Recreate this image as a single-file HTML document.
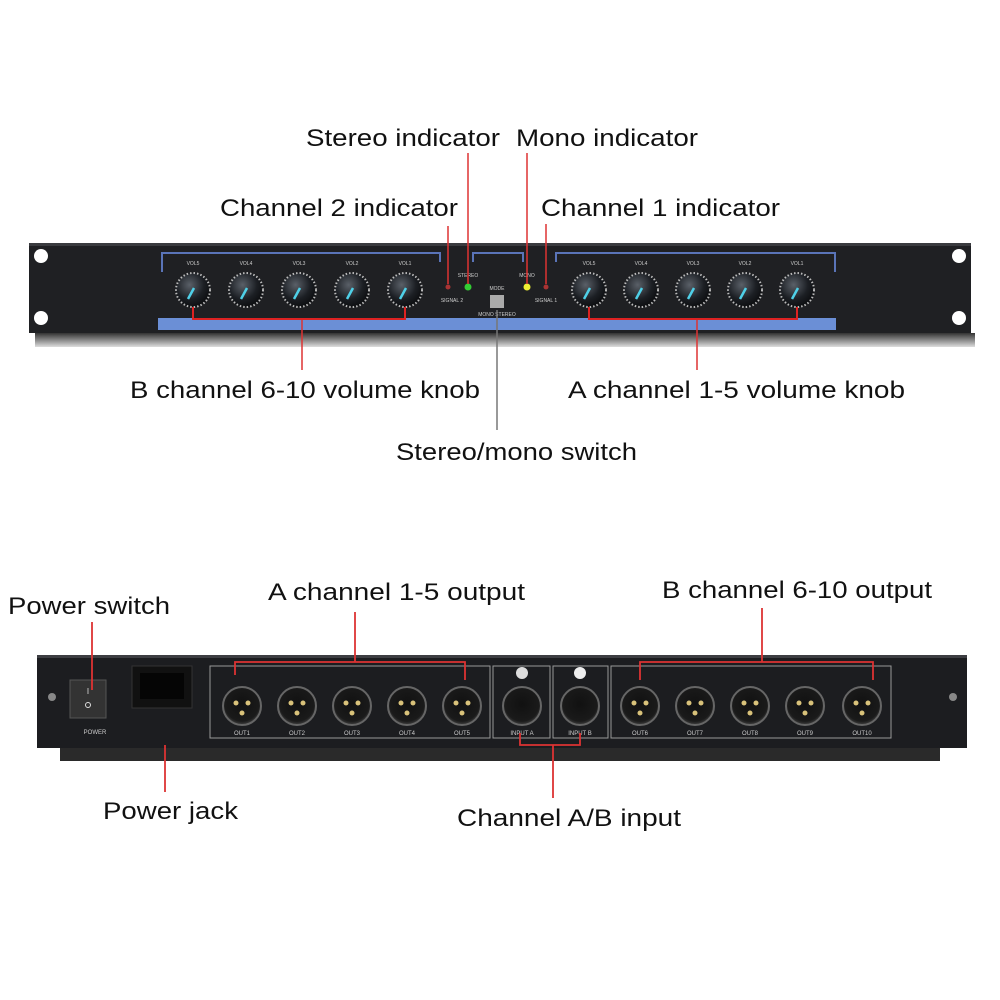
<!DOCTYPE html>
<html><head><style>
body{margin:0;background:#fff;}
svg{display:block;font-family:"Liberation Sans",sans-serif;}
</style></head><body>
<svg width="1000" height="1000" viewBox="0 0 1000 1000">
<defs>
<radialGradient id="kn" cx="40%" cy="35%" r="70%"><stop offset="0" stop-color="#5a6068"/><stop offset="0.6" stop-color="#1c1f24"/><stop offset="1" stop-color="#0a0b0d"/></radialGradient>
<radialGradient id="xl" cx="50%" cy="45%" r="60%"><stop offset="0" stop-color="#111"/><stop offset="0.75" stop-color="#1a1a1a"/><stop offset="1" stop-color="#555"/></radialGradient>
<linearGradient id="sh" x1="0" y1="0" x2="0" y2="1"><stop offset="0" stop-color="#333"/><stop offset="1" stop-color="#ddd"/></linearGradient>
</defs>
<!-- FRONT PANEL -->
<rect x="35" y="333" width="940" height="14" fill="url(#sh)"/>
<rect x="29" y="243" width="942" height="90" fill="#1f2023"/>
<rect x="29" y="243" width="942" height="3" fill="#3a3b3f"/>
<circle cx="41" cy="256" r="7" fill="#fff"/><circle cx="41" cy="318" r="7" fill="#fff"/>
<circle cx="959" cy="256" r="7" fill="#fff"/><circle cx="959" cy="318" r="7" fill="#fff"/>
<path d="M162 272 V253 H440 V262" stroke="#5a74b8" stroke-width="2" fill="none"/>
<path d="M556 262 V253 H835 V272" stroke="#5a74b8" stroke-width="2" fill="none"/>
<path d="M473 262 V253 H523 V262" stroke="#5a74b8" stroke-width="2" fill="none"/>
<rect x="158" y="318" width="678" height="12" fill="#6b8fd6"/>
<g fill="url(#kn)" stroke="#bbb" stroke-width="2" stroke-dasharray="1.5 2">
<circle cx="193" cy="290" r="17"/><circle cx="246" cy="290" r="17"/><circle cx="299" cy="290" r="17"/><circle cx="352" cy="290" r="17"/><circle cx="405" cy="290" r="17"/>
<circle cx="589" cy="290" r="17"/><circle cx="641" cy="290" r="17"/><circle cx="693" cy="290" r="17"/><circle cx="745" cy="290" r="17"/><circle cx="797" cy="290" r="17"/>
</g>
<g stroke="#4fd0e8" stroke-width="2.5">
<line x1="188" y1="299" x2="194" y2="288"/><line x1="241" y1="299" x2="247" y2="288"/><line x1="294" y1="299" x2="300" y2="288"/><line x1="347" y1="299" x2="353" y2="288"/><line x1="400" y1="299" x2="406" y2="288"/>
<line x1="584" y1="299" x2="590" y2="288"/><line x1="636" y1="299" x2="642" y2="288"/><line x1="688" y1="299" x2="694" y2="288"/><line x1="740" y1="299" x2="746" y2="288"/><line x1="792" y1="299" x2="798" y2="288"/>
</g>
<g fill="#ccc" font-size="5" text-anchor="middle">
<text x="193" y="265">VOL5</text><text x="246" y="265">VOL4</text><text x="299" y="265">VOL3</text><text x="352" y="265">VOL2</text><text x="405" y="265">VOL1</text>
<text x="589" y="265">VOL5</text><text x="641" y="265">VOL4</text><text x="693" y="265">VOL3</text><text x="745" y="265">VOL2</text><text x="797" y="265">VOL1</text>
<text x="468" y="277">STEREO</text><text x="527" y="277">MONO</text><text x="497" y="290">MODE</text><text x="497" y="316">MONO STEREO</text>
<text x="452" y="302">SIGNAL 2</text><text x="546" y="302">SIGNAL 1</text>
</g>
<circle cx="448" cy="287" r="2.5" fill="#a33"/><circle cx="468" cy="287" r="3.5" fill="#3c3"/><circle cx="527" cy="287" r="3.5" fill="#ee3"/><circle cx="546" cy="287" r="2.5" fill="#a33"/>
<rect x="490" y="295" width="14" height="13" fill="#aaa"/>
<path d="M193 307 V319 H405 V307" stroke="#d22" stroke-width="2" fill="none"/>
<path d="M589 307 V319 H797 V307" stroke="#d22" stroke-width="2" fill="none"/>
<g stroke="#d33" stroke-width="1.5">
<line x1="448" y1="226" x2="448" y2="284"/><line x1="468" y1="153" x2="468" y2="284"/>
<line x1="527" y1="153" x2="527" y2="284"/><line x1="546" y1="224" x2="546" y2="284"/>
<line x1="302" y1="320" x2="302" y2="370"/><line x1="697" y1="320" x2="697" y2="370"/>
</g>
<line x1="497" y1="310" x2="497" y2="430" stroke="#777" stroke-width="1.5"/>
<g font-size="24" fill="#111" lengthAdjust="spacingAndGlyphs">
<text x="306" y="146" textLength="194" lengthAdjust="spacingAndGlyphs">Stereo indicator</text>
<text x="516" y="146" textLength="182" lengthAdjust="spacingAndGlyphs">Mono indicator</text>
<text x="220" y="216" textLength="238" lengthAdjust="spacingAndGlyphs">Channel 2 indicator</text>
<text x="541" y="216" textLength="239" lengthAdjust="spacingAndGlyphs">Channel 1 indicator</text>
<text x="130" y="398" textLength="350" lengthAdjust="spacingAndGlyphs">B channel 6-10 volume knob</text>
<text x="568" y="398" textLength="337" lengthAdjust="spacingAndGlyphs">A channel 1-5 volume knob</text>
<text x="396" y="460" textLength="241" lengthAdjust="spacingAndGlyphs">Stereo/mono switch</text>
<text x="8" y="614" textLength="162" lengthAdjust="spacingAndGlyphs">Power switch</text>
<text x="268" y="600" textLength="257" lengthAdjust="spacingAndGlyphs">A channel 1-5 output</text>
<text x="662" y="598" textLength="270" lengthAdjust="spacingAndGlyphs">B channel 6-10 output</text>
<text x="103" y="819" textLength="135" lengthAdjust="spacingAndGlyphs">Power jack</text>
<text x="457" y="826" textLength="224" lengthAdjust="spacingAndGlyphs">Channel A/B input</text>
</g>
<!-- REAR PANEL -->
<rect x="60" y="748" width="880" height="13" fill="#2a2a2a"/>
<rect x="37" y="655" width="930" height="93" fill="#1c1d20"/>
<rect x="37" y="655" width="930" height="3" fill="#3d3e42"/>
<circle cx="52" cy="697" r="4" fill="#888"/><circle cx="953" cy="697" r="4" fill="#888"/>
<rect x="70" y="680" width="36" height="38" fill="#333" stroke="#555"/>
<text x="88" y="694" fill="#ddd" font-size="8" text-anchor="middle">I</text>
<circle cx="88" cy="705" r="2.5" fill="none" stroke="#ddd"/>
<text x="95" y="734" fill="#ccc" font-size="6" text-anchor="middle">POWER</text>
<rect x="132" y="666" width="60" height="42" fill="#111" stroke="#333"/>
<rect x="140" y="673" width="44" height="26" fill="#050505"/>
<rect x="210" y="666" width="280" height="72" fill="none" stroke="#999"/>
<rect x="493" y="666" width="57" height="72" fill="none" stroke="#999"/>
<rect x="553" y="666" width="55" height="72" fill="none" stroke="#999"/>
<rect x="611" y="666" width="280" height="72" fill="none" stroke="#999"/>
<g fill="url(#xl)" stroke="#666" stroke-width="2">
<circle cx="242" cy="706" r="19"/><circle cx="297" cy="706" r="19"/><circle cx="352" cy="706" r="19"/><circle cx="407" cy="706" r="19"/><circle cx="462" cy="706" r="19"/>
<circle cx="522" cy="706" r="19"/><circle cx="580" cy="706" r="19"/>
<circle cx="640" cy="706" r="19"/><circle cx="695" cy="706" r="19"/><circle cx="750" cy="706" r="19"/><circle cx="805" cy="706" r="19"/><circle cx="862" cy="706" r="19"/>
</g>
<g fill="#d9c27a">
<circle cx="236" cy="703" r="2.5"/><circle cx="248" cy="703" r="2.5"/><circle cx="242" cy="713" r="2.5"/>
<circle cx="291" cy="703" r="2.5"/><circle cx="303" cy="703" r="2.5"/><circle cx="297" cy="713" r="2.5"/>
<circle cx="346" cy="703" r="2.5"/><circle cx="358" cy="703" r="2.5"/><circle cx="352" cy="713" r="2.5"/>
<circle cx="401" cy="703" r="2.5"/><circle cx="413" cy="703" r="2.5"/><circle cx="407" cy="713" r="2.5"/>
<circle cx="456" cy="703" r="2.5"/><circle cx="468" cy="703" r="2.5"/><circle cx="462" cy="713" r="2.5"/>
<circle cx="634" cy="703" r="2.5"/><circle cx="646" cy="703" r="2.5"/><circle cx="640" cy="713" r="2.5"/>
<circle cx="689" cy="703" r="2.5"/><circle cx="701" cy="703" r="2.5"/><circle cx="695" cy="713" r="2.5"/>
<circle cx="744" cy="703" r="2.5"/><circle cx="756" cy="703" r="2.5"/><circle cx="750" cy="713" r="2.5"/>
<circle cx="799" cy="703" r="2.5"/><circle cx="811" cy="703" r="2.5"/><circle cx="805" cy="713" r="2.5"/>
<circle cx="856" cy="703" r="2.5"/><circle cx="868" cy="703" r="2.5"/><circle cx="862" cy="713" r="2.5"/>
</g>
<circle cx="522" cy="673" r="6" fill="#ddd"/><circle cx="580" cy="673" r="6" fill="#eee"/>
<g fill="#ccc" font-size="6" text-anchor="middle">
<text x="242" y="735">OUT1</text><text x="297" y="735">OUT2</text><text x="352" y="735">OUT3</text><text x="407" y="735">OUT4</text><text x="462" y="735">OUT5</text>
<text x="522" y="735">INPUT A</text><text x="580" y="735">INPUT B</text>
<text x="640" y="735">OUT6</text><text x="695" y="735">OUT7</text><text x="750" y="735">OUT8</text><text x="805" y="735">OUT9</text><text x="862" y="735">OUT10</text>
</g>
<g stroke="#d33" stroke-width="1.8" fill="none">
<line x1="92" y1="622" x2="92" y2="690"/>
<line x1="355" y1="612" x2="355" y2="662"/>
<path d="M235 675 V662 H465 V680"/>
<line x1="762" y1="608" x2="762" y2="662"/>
<path d="M640 680 V662 H873 V680"/>
<line x1="165" y1="745" x2="165" y2="792"/>
<line x1="553" y1="745" x2="553" y2="798"/>
<path d="M520 733 V745 H580 V733"/>
</g>
</svg>
</body></html>
